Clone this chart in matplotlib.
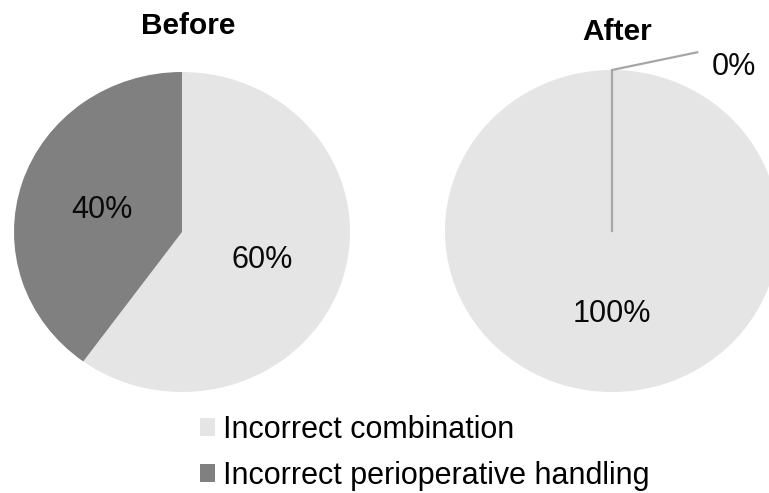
import matplotlib
matplotlib.use("Agg")
import matplotlib.pyplot as plt
import matplotlib.transforms as mtransforms
from matplotlib.patches import Patch
import numpy as np

plt.rcParams['font.family'] = ['Liberation Sans', 'DejaVu Sans']

categories = ["Incorrect combination", "Incorrect perioperative handling"]
before_values = [60, 40]
after_values = [100, 0]
titles = ["Before", "After"]
colors = ["#e5e5e5", "#808080"]

W, H = 769, 493
fig = plt.figure(figsize=(W / 100, H / 100), dpi=100)

def add_ax(cx, cy, rx, ry):
    # pixel coords from top-left -> figure fraction
    return fig.add_axes([(cx - rx) / W, (H - cy - ry) / H, 2 * rx / W, 2 * ry / H])

def fmt(p):
    return f"{p:.0f}%" if p > 0.5 else ""

ax1 = add_ax(182, 232, 168, 160)
ax2 = add_ax(612, 231, 167, 161)

for ax, vals in [(ax1, before_values), (ax2, after_values)]:
    _, _, autotexts = ax.pie(vals, colors=colors, startangle=90, counterclock=False,
                             autopct=fmt, pctdistance=0.5, radius=1,
                             textprops=dict(fontsize=22, color="#0a0a0a"),
                             wedgeprops=dict(linewidth=0))
    for t in autotexts:
        t.set_transform(t.get_transform() +
                        mtransforms.ScaledTranslation(0, -3 / 100, fig.dpi_scale_trans))
    ax.set_aspect('auto')
    ax.set_xlim(-1, 1)
    ax.set_ylim(-1, 1)
    ax.axis('off')

# leader for zero-valued wedge in "After"
tot = sum(after_values)
ang = 0
for v in after_values:
    if v == 0:
        theta = np.deg2rad(90 - ang * 360 / tot)
        x1, y1 = np.cos(theta), np.sin(theta)
        ax2.plot([0, x1, 0.51], [0, y1, 1.11], color="#a6a6a6", lw=1.6,
                 clip_on=False, solid_joinstyle='miter')
        ax2.text(0.595, 1.02, f"{v}%", fontsize=22, color="#0a0a0a",
                 ha='left', va='center')
    ang += v

fig.text(188 / W, 1 - 34 / H, titles[0], fontsize=21.5, fontweight='bold',
         ha='center', va='baseline')
fig.text(617 / W, 1 - 40 / H, titles[1], fontsize=21.5, fontweight='bold',
         ha='center', va='baseline')

handles = [Patch(facecolor=c, edgecolor='none') for c in colors]
fig.legend(handles, categories, loc='upper left', bbox_to_anchor=(200 / W, 1 - 415 / H),
           frameon=False, fontsize=22, handlelength=0.5, handleheight=0.5,
           handletextpad=0.26, labelspacing=0.52, borderpad=0, borderaxespad=0)

fig.savefig("out.png", dpi=100)
